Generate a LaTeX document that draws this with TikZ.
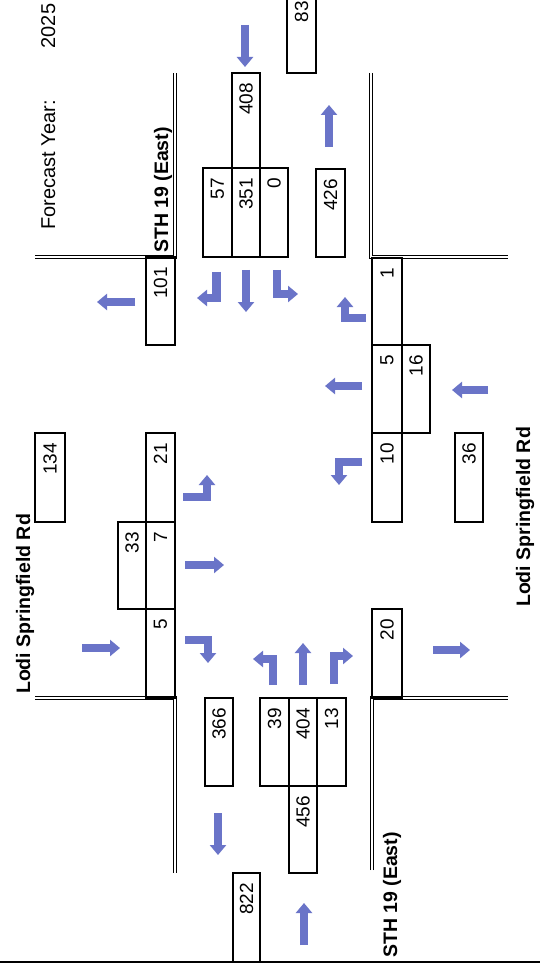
\documentclass[tikz,border=0pt]{standalone}
\usepackage{fontspec}
\setmainfont{Liberation Sans}
\usetikzlibrary{arrows.meta}
\definecolor{arrowblue}{RGB}{106,116,200}
\begin{document}
\begin{tikzpicture}[x=1pt,y=1pt,
  box/.style={draw, line width=1.2pt, rotate=90, inner xsep=10pt, inner ysep=0pt, align=right, font=\fontsize{19}{22}\selectfont, anchor=center},
  roadline/.style={draw=black, line width=1.1pt, line join=miter},
  flow/.style={draw=arrowblue, line width=8.5pt, -{Triangle[length=10pt,width=16pt]}, line join=miter},
  lbl/.style={rotate=90, anchor=base, inner sep=0pt, font=\fontsize{19.5}{22}\selectfont\bfseries},
  plain/.style={rotate=90, anchor=base, inner sep=0pt, font=\fontsize{20}{22}\selectfont}]
\useasboundingbox (0,0) rectangle (540,-965);
\clip (0,0) rectangle (540,-965);
\fill[white] (0,0) rectangle (540,-965);

% roads (double lines)
\draw[roadline] (35,-255.3) -- (173.3,-255.3) -- (173.3,-73);
\draw[roadline] (35,-258.3) -- (176.3,-258.3) -- (176.3,-73);
\draw[roadline] (369.6,-73) -- (369.6,-258.3) -- (508,-258.3);
\draw[roadline] (372.6,-73) -- (372.6,-255.3) -- (508,-255.3);
\draw[roadline] (35,-699.5) -- (173.3,-699.5) -- (173.3,-873);
\draw[roadline] (35,-696.5) -- (176.3,-696.5) -- (176.3,-873);
\draw[roadline] (370.6,-870) -- (370.6,-696.5) -- (508,-696.5);
\draw[roadline] (373.6,-870) -- (373.6,-699.5) -- (508,-699.5);
\draw[line width=2.5pt] (0,-962) -- (540,-962);

% labels
\node[plain] (fy) at (55,-165) {Forecast Year:};
\node[plain] (yr) at (55,-26) {2025};
\node[lbl] (sthT) at (168,-190) {STH 19 (East)};
\node[lbl] (lodiT) at (30,-604) {Lodi Springfield Rd};
\node[lbl] (lodiB) at (530,-517) {Lodi Springfield Rd};
\node[lbl] (sthB) at (397,-895) {STH 19 (East)};

% boxes
\node[box, text width=75pt, minimum height=28pt] (b408) at (246,-120.5) {408};
\node[box, text width=69pt, minimum height=29pt] (b57) at (217.5,-212.5) {57};
\node[box, text width=69pt, minimum height=28pt] (b351) at (246,-212.5) {351};
\node[box, text width=69pt, minimum height=28pt] (b0) at (274,-212.5) {0};
\node[box, text width=68pt, minimum height=29pt] (b426) at (330.5,-213) {426};
\node[box, text width=62pt, minimum height=29pt] (b83) at (301.5,-32) {83};
\node[box, text width=68pt, minimum height=29pt] (b101) at (160.5,-301) {101};
\node[box, text width=67pt, minimum height=30pt] (b1) at (387,-301.5) {1};
\node[box, text width=68pt, minimum height=30pt] (b5r) at (387,-389) {5};
\node[box, text width=68pt, minimum height=28pt] (b16) at (416,-389) {16};
\node[box, text width=69pt, minimum height=30pt] (b10) at (387,-477.5) {10};
\node[box, text width=69pt, minimum height=28pt] (b36) at (469,-477.5) {36};
\node[box, text width=69pt, minimum height=30pt] (b134) at (50,-477.5) {134};
\node[box, text width=69pt, minimum height=29pt] (b21) at (160.5,-477.5) {21};
\node[box, text width=67pt, minimum height=28pt] (b33) at (132,-565.5) {33};
\node[box, text width=67pt, minimum height=29pt] (b7) at (160.5,-565.5) {7};
\node[box, text width=69pt, minimum height=29pt] (b5l) at (160.5,-653.5) {5};
\node[box, text width=68pt, minimum height=28pt] (b366) at (219,-742) {366};
\node[box, text width=68pt, minimum height=29pt] (b39) at (274.5,-742) {39};
\node[box, text width=68pt, minimum height=28pt] (b404) at (303,-742) {404};
\node[box, text width=68pt, minimum height=29pt] (b13) at (331.5,-742) {13};
\node[box, text width=67pt, minimum height=28pt] (b456) at (303,-829.5) {456};
\node[box, text width=69pt, minimum height=27pt] (b822) at (246.5,-917.5) {822};
\node[box, text width=69pt, minimum height=30pt] (b20) at (387,-653.5) {20};

% flow arrows
\draw[flow] (245,-25) -- (245,-67);
\draw[flow] (329,-147) -- (329,-105);
\draw[flow] (135,-302) -- (97,-302);
\draw[flow] (216.5,-272) -- (216.5,-298) -- (197,-298);
\draw[flow] (246,-270) -- (246,-312);
\draw[flow] (277,-270) -- (277,-294) -- (298,-294);
\draw[flow] (366,-318) -- (345,-318) -- (345,-297);
\draw[flow] (362,-386) -- (325,-386);
\draw[flow] (362,-462) -- (339,-462) -- (339,-485);
\draw[flow] (488,-390) -- (452,-390);
\draw[flow] (433,-650) -- (470,-650);
\draw[flow] (82,-648) -- (120,-648);
\draw[flow] (183,-497) -- (207,-497) -- (207,-475);
\draw[flow] (185,-565) -- (224,-565);
\draw[flow] (185,-640) -- (208,-640) -- (208,-663);
\draw[flow] (273,-685) -- (273,-659) -- (253,-659);
\draw[flow] (303,-685) -- (303,-643);
\draw[flow] (334,-684) -- (334,-656) -- (353,-656);
\draw[flow] (218,-813) -- (218,-855);
\draw[flow] (304,-945) -- (304,-903);
\end{tikzpicture}
\end{document}
